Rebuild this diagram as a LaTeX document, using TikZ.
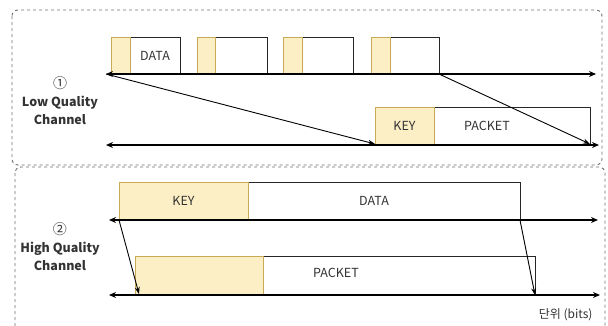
\documentclass[tikz,border=0pt]{standalone}
\usepackage{fontspec}
\setmainfont{Noto Sans CJK KR}
\usetikzlibrary{arrows.meta}
\definecolor{keyfill}{HTML}{FCEFC6}
\definecolor{keydraw}{HTML}{C9AA55}
\definecolor{panel}{HTML}{707070}
\definecolor{txt}{HTML}{333333}
\tikzset{
  boxfont/.style={font=\fontsize{12.5}{14}\selectfont, text=txt},
  panelbox/.style={draw=panel, dashed, line width=0.9pt, rounded corners=6pt},
  keybox/.style={draw=keydraw, fill=keyfill, line width=0.9pt, rectangle, inner sep=0pt, outer sep=0pt, anchor=south west, boxfont},
  databox/.style={draw=black!85, fill=white, line width=1pt, rectangle, inner sep=0pt, outer sep=0pt, anchor=south west, boxfont},
  axis/.style={line width=1.6pt, {Stealth[length=7pt,width=6pt]}-{Stealth[length=7pt,width=6pt]}},
  diag/.style={line width=0.9pt, -{Stealth[length=7pt,width=5pt]}},
  chlabel/.style={align=center, font=\fontsize{12.5}{18}\selectfont\bfseries, text=txt},
}
\begin{document}
\begin{tikzpicture}[x=1pt,y=-1pt]
\useasboundingbox (0,0) rectangle (608,325);
% panels
\draw[panelbox] (12,10) rectangle (602,165);
\draw[panelbox] (15,167) rectangle (605,332);
% ---- top panel ----
% row 1
\node[databox, minimum width=50pt, minimum height=37pt] (d1) at (130,74) {DATA};
\node[keybox, minimum width=19pt, minimum height=37pt] (k1) at (111,74) {};
\node[databox, minimum width=52pt, minimum height=37pt] (d2) at (215,74) {};
\node[keybox, minimum width=18pt, minimum height=37pt] (k2) at (197,74) {};
\node[databox, minimum width=51pt, minimum height=37pt] (d3) at (302,74) {};
\node[keybox, minimum width=19pt, minimum height=37pt] (k3) at (283,74) {};
\node[databox, minimum width=49pt, minimum height=37pt] (d4) at (390,74) {};
\node[keybox, minimum width=19pt, minimum height=37pt] (k4) at (371,74) {};
\coordinate (a1l) at (106,74);
\coordinate (a1r) at (596,74);
\draw[axis] (a1l) -- (a1r);
% row 2
\node[databox, minimum width=156pt, minimum height=37pt] (p1) at (434,144) {};
\node[anchor=center, boxfont] (p1t) at (487,126) {PACKET};
\node[keybox, minimum width=59pt, minimum height=37pt] (pk1) at (375,144) {KEY};
\coordinate (a2l) at (106,145);
\coordinate (a2r) at (599,145);
\draw[axis] (a2l) -- (a2r);
% diagonals
\draw[diag] (a1l) -- (pk1.south west);
\draw[diag] (d4.south east) -- (p1.south east);
% label
\node[chlabel] (lq) at (60,101) {{\mdseries\fontsize{14}{18}\selectfont ①}\\Low Quality\\Channel};
% ---- bottom panel ----
\node[databox, minimum width=272pt, minimum height=38pt] (bd) at (248,220) {};
\node[boxfont] (bdt) at (374,201) {DATA};
\node[keybox, minimum width=129pt, minimum height=38pt] (bk) at (119,220) {KEY};
\coordinate (b1l) at (109,220);
\coordinate (b1r) at (598,220);
\draw[axis] (b1l) -- (b1r);
\node[databox, minimum width=272pt, minimum height=39pt] (bp) at (263,295) {};
\node[boxfont] (bpt) at (336,273) {PACKET};
\node[keybox, minimum width=128pt, minimum height=39pt] (bpk) at (135,295) {};
\coordinate (b2l) at (109,295);
\coordinate (b2r) at (600,295);
\draw[axis] (b2l) -- (b2r);
\coordinate (bpkt) at (139,294);
\draw[diag] (bk.south west) -- (bpkt);
\draw[diag] (bd.south east) -- (bp.south east);
\node[chlabel] (hq) at (60,247) {{\mdseries\fontsize{14}{18}\selectfont ②}\\High Quality\\Channel};
\node[font=\fontsize{12}{14}\selectfont, text=txt, anchor=east] (unit) at (596,315) {단위 (bits)};
\end{tikzpicture}
\end{document}
